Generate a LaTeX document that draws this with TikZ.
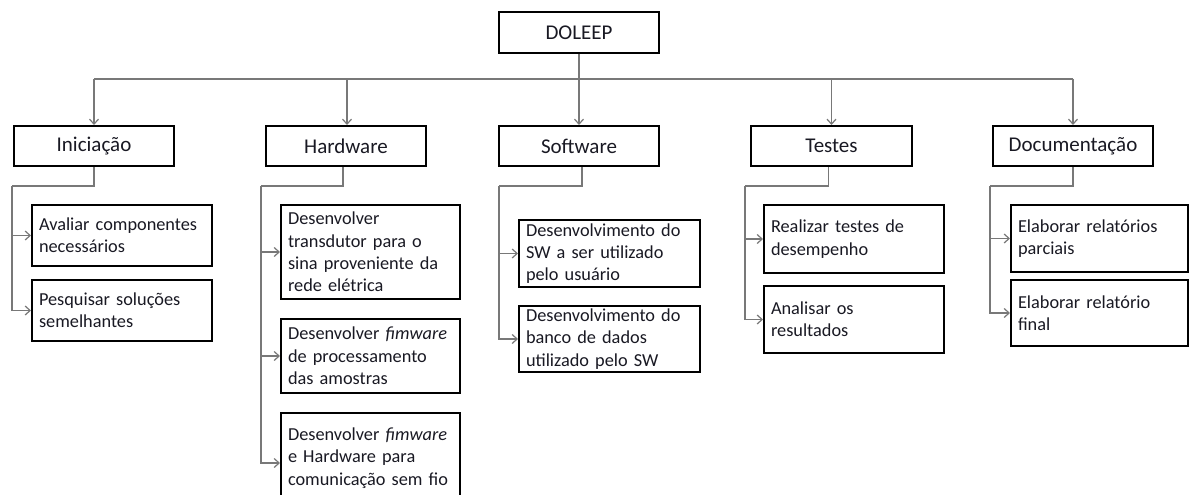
\documentclass[tikz,border=0pt]{standalone}
\usepackage{fontspec}
\setmainfont{Carlito}
\usetikzlibrary{arrows.meta}
\definecolor{txt}{RGB}{25,25,35}
\definecolor{ln}{RGB}{120,120,120}
\tikzset{
 topbox/.style={draw=black, line width=2pt, fill=white, minimum height=40pt, font=\fontsize{21}{25}\selectfont, text=txt, inner sep=0pt},
 leaf/.style={draw=black, line width=2pt, fill=white, align=left, font=\fontsize{18.3}{22.3}\selectfont, text=txt, inner xsep=7pt, inner ysep=0pt},
 conn/.style={draw=ln, line width=1.2pt, -{Straight Barb[length=5pt,width=9pt]}},
 wire/.style={draw=ln, line width=1.2pt}
}
\begin{document}
\begin{tikzpicture}[x=1pt,y=-1pt]
\useasboundingbox[fill=white] (0,0) rectangle (1189,495);
% top
\node[topbox, minimum width=160pt, minimum height=41pt] (doleep) at (579,32.5) {DOLEEP};
\node[topbox, minimum width=160pt] (ini) at (94,146) {Iniciação};
\node[topbox, minimum width=160pt] (hw) at (346,146) {Hardware};
\node[topbox, minimum width=160pt] (sw) at (579,146) {Software};
\node[topbox, minimum width=161pt] (te) at (831.5,146) {Testes};
\node[topbox, minimum width=160pt] (doc) at (1073,146) {Documentação};
% leaves
\node[leaf, minimum width=180pt, minimum height=61pt, text width=166pt] (av) at (122,235.5) {Avaliar componentes\\necessários};
\node[leaf, minimum width=180pt, minimum height=61pt, text width=166pt] (pe) at (122,310.5) {Pesquisar soluções\\semelhantes};
\node[leaf, minimum width=179pt, minimum height=94pt, text width=165pt] (hw1) at (370.5,252) {Desenvolver\\transdutor para o\\sina proveniente da\\rede elétrica};
\node[leaf, minimum width=179pt, minimum height=74pt, text width=165pt] (hw2) at (370.5,356) {Desenvolver \textit{fimware}\\de processamento\\das amostras};
\node[leaf, minimum width=179pt, minimum height=90pt, text width=165pt] (hw3) at (370.5,458) {Desenvolver \textit{fimware}\\e Hardware para\\comunicação sem fio};
\node[leaf, minimum width=181pt, minimum height=67pt, text width=167pt] (sw1) at (609.5,253.5) {Desenvolvimento do\\SW a ser utilizado\\pelo usuário};
\node[leaf, minimum width=181pt, minimum height=66pt, text width=167pt] (sw2) at (609.5,339) {Desenvolvimento do\\banco de dados\\utilizado pelo SW};
\node[leaf, minimum width=180pt, minimum height=68pt, text width=166pt] (te1) at (854,239) {Realizar testes de\\desempenho};
\node[leaf, minimum width=180pt, minimum height=67pt, text width=166pt] (te2) at (854,319.5) {Analisar os\\resultados};
\node[leaf, minimum width=177pt, minimum height=67pt, text width=163pt] (doc1) at (1099.5,238.5) {Elaborar relatórios\\parciais};
\node[leaf, minimum width=177pt, minimum height=66pt, text width=163pt] (doc2) at (1099.5,313) {Elaborar relatório\\final};
% top connectors
\coordinate (busy) at (0,79);
\draw[conn] (doleep.south) -- (sw.north);
\draw[wire] (doleep.south |- busy) -- (ini.north |- busy);
\draw[wire] (doleep.south |- busy) -- (doc.north |- busy);
\draw[conn] (ini.north |- busy) -- (ini.north);
\draw[conn] ([xshift=1pt]hw.north |- busy) -- ([xshift=1pt]hw.north);
\draw[conn] (te.north |- busy) -- (te.north);
\draw[conn] (doc.north |- busy) -- (doc.north);
% branch connectors
\coordinate (iniJ) at (12,186);
\coordinate (hwJ) at (261,186);
\coordinate (swJ) at (499,186);
\coordinate (teJ) at (745,186);
\coordinate (docJ) at (990,186);
\draw[wire] (ini.south) |- (iniJ);
\draw[conn] (iniJ) |- (av.west);
\draw[conn] (iniJ) |- (pe.west);
\draw[wire] ([xshift=-3pt]hw.south) |- (hwJ);
\draw[conn] (hwJ) |- (hw1.west);
\draw[conn] (hwJ) |- (hw2.west);
\draw[conn] (hwJ) |- ([yshift=-5pt]hw3.west);
\draw[wire] ([xshift=3pt]sw.south) |- (swJ);
\draw[conn] (swJ) |- (sw1.west);
\draw[conn] (swJ) |- (sw2.west);
\draw[wire] ([xshift=-3pt]te.south) |- (teJ);
\draw[conn] (teJ) |- (te1.west);
\draw[conn] (teJ) |- (te2.west);
\draw[wire] (doc.south) |- (docJ);
\draw[conn] (docJ) |- (doc1.west);
\draw[conn] (docJ) |- (doc2.west);
\end{tikzpicture}
\end{document}
